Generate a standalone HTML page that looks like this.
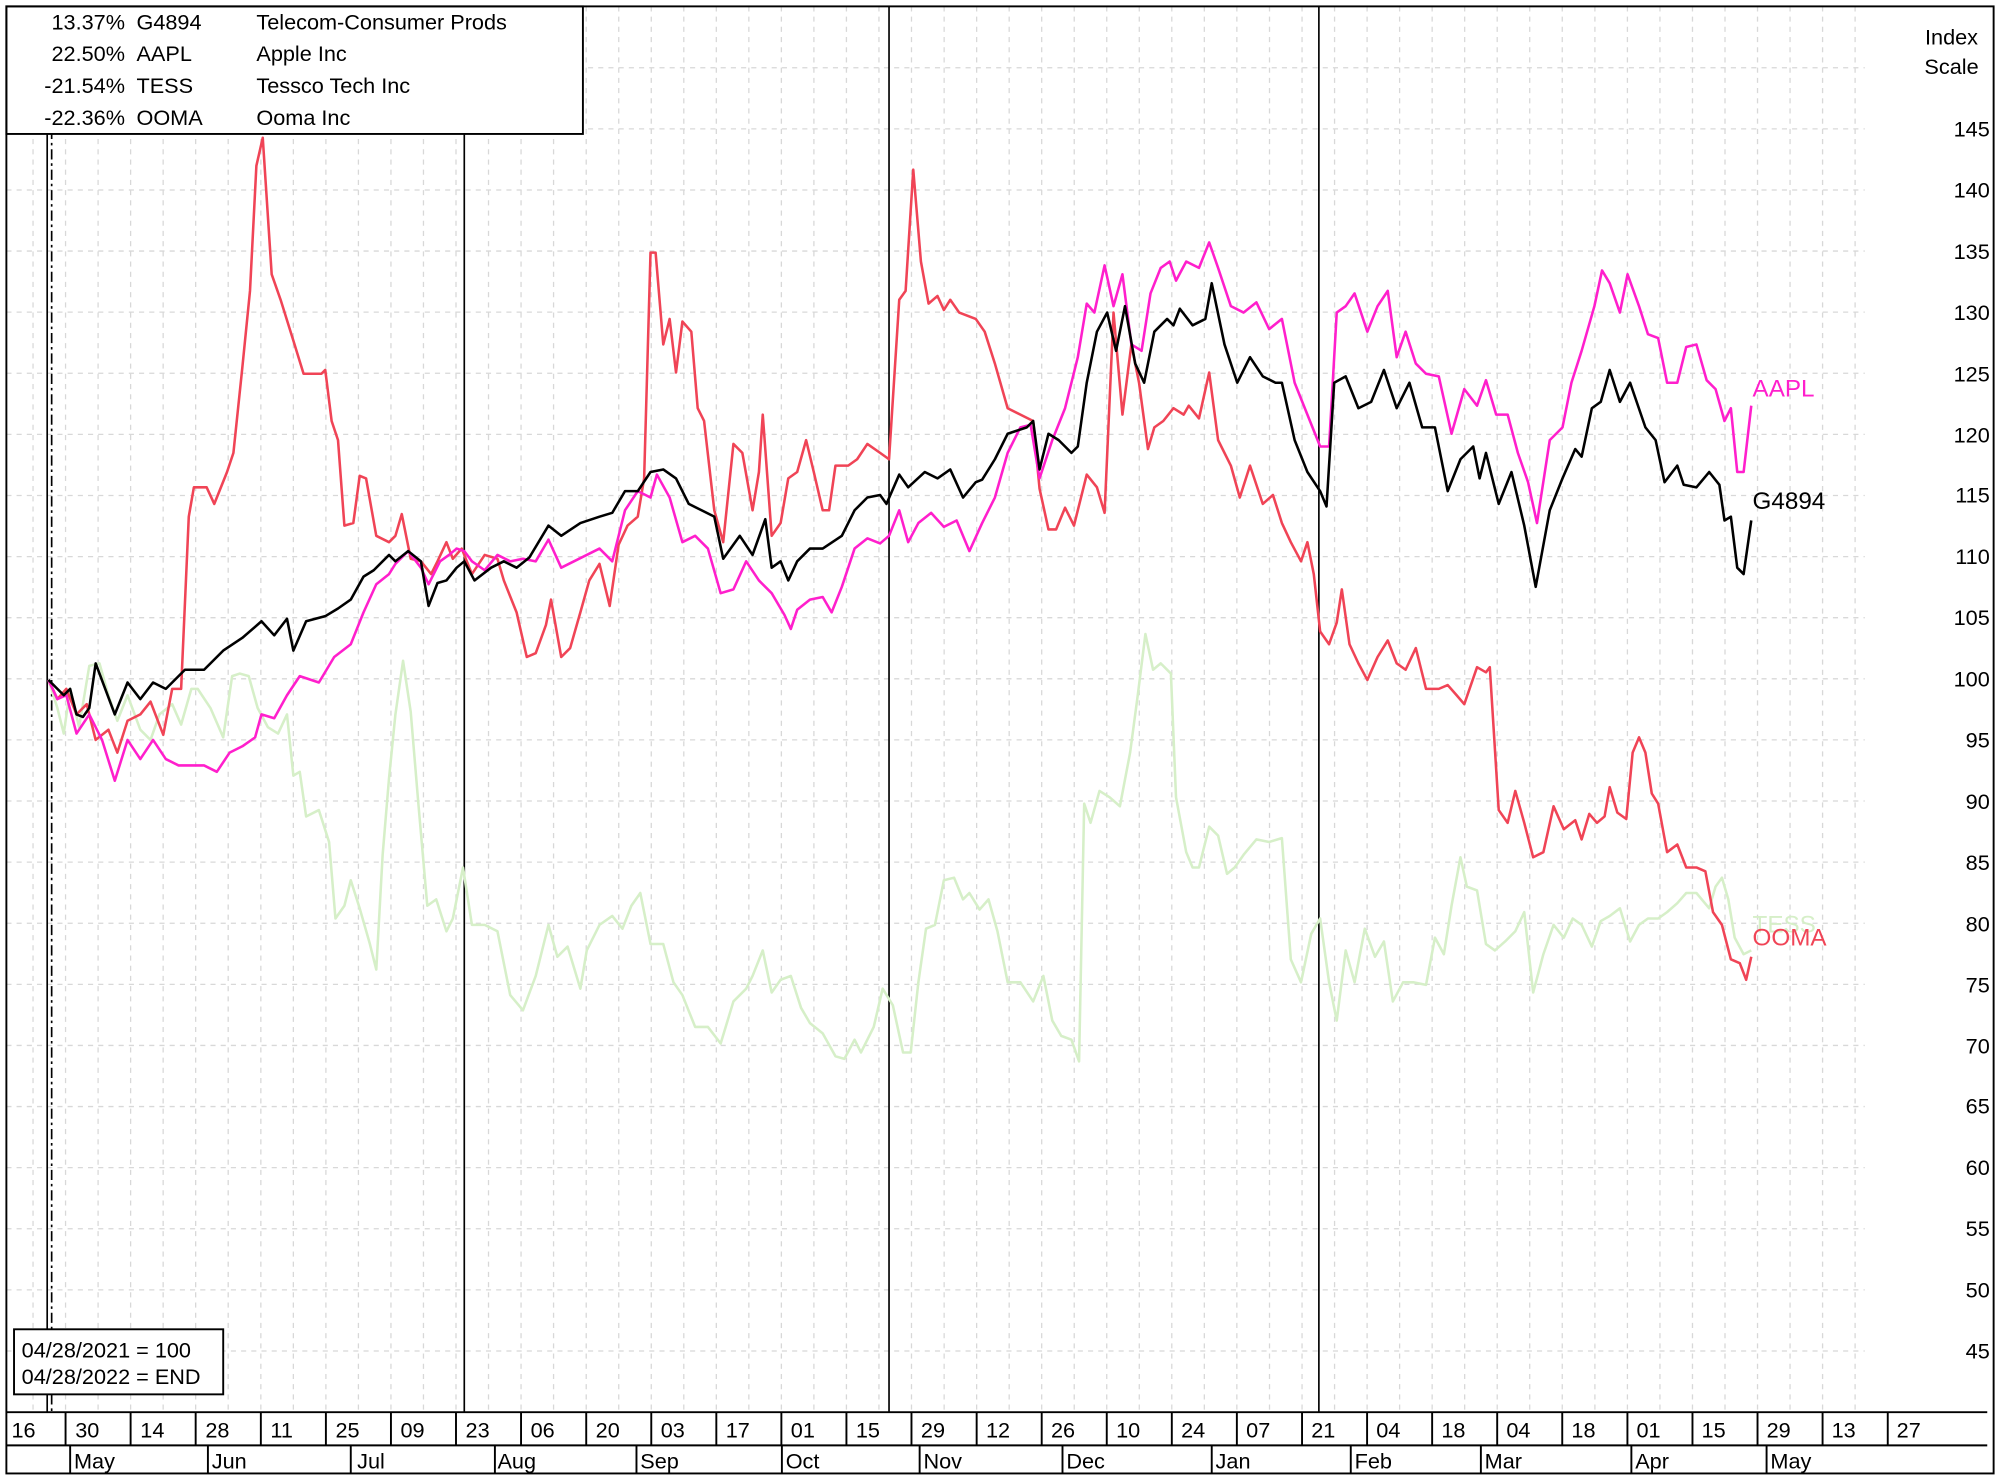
<!DOCTYPE html>
<html><head><meta charset="utf-8"><style>
html,body{margin:0;padding:0;background:#fff;}
svg{display:block;}
text{font-family:"Liberation Sans",Arial,sans-serif;font-size:17px;fill:#000;}
</style></head><body>
<svg width="2000" height="1476" viewBox="0 0 1568 1157" preserveAspectRatio="none" xmlns="http://www.w3.org/2000/svg">
<rect x="0" y="0" width="1568" height="1157" fill="#fff"/>
<g stroke="#d8d8d8" stroke-width="1" stroke-dasharray="4,4" fill="none">
<path d="M5 53.1H1462M5 101H1462M5 148.9H1462M5 196.8H1462M5 244.7H1462M5 292.6H1462M5 340.5H1462M5 388.4H1462M5 436.3H1462M5 484.2H1462M5 532.1H1462M5 580H1462M5 627.9H1462M5 675.8H1462M5 723.7H1462M5 771.6H1462M5 819.5H1462M5 867.4H1462M5 915.3H1462M5 963.2H1462M5 1011.1H1462M5 1059H1462"/>
<path d="M25.9 5V1107M51.4 5V1107M76.9 5V1107M102.4 5V1107M127.9 5V1107M153.4 5V1107M178.9 5V1107M204.5 5V1107M230 5V1107M255.5 5V1107M281 5V1107M306.5 5V1107M332 5V1107M357.5 5V1107M383 5V1107M408.5 5V1107M434 5V1107M459.6 5V1107M485.1 5V1107M510.6 5V1107M536.1 5V1107M561.6 5V1107M587.1 5V1107M612.6 5V1107M638.1 5V1107M663.6 5V1107M689.1 5V1107M714.6 5V1107M740.2 5V1107M765.7 5V1107M791.2 5V1107M816.7 5V1107M842.2 5V1107M867.7 5V1107M893.2 5V1107M918.7 5V1107M944.2 5V1107M969.7 5V1107M995.3 5V1107M1020.8 5V1107M1046.3 5V1107M1071.8 5V1107M1097.3 5V1107M1122.8 5V1107M1148.3 5V1107M1173.8 5V1107M1199.3 5V1107M1224.8 5V1107M1250.4 5V1107M1275.9 5V1107M1301.4 5V1107M1326.9 5V1107M1352.4 5V1107M1377.9 5V1107M1403.4 5V1107M1428.9 5V1107M1454.4 5V1107"/>
</g>
<g stroke="#000" stroke-width="1.3" fill="none">
<path d="M37 5V1107M364 5V1107M697 5V1107M1034 5V1107"/>
<path d="M40.5 5V1107" stroke-dasharray="8,3,2,3"/>
</g>
<g fill="none" stroke-width="2" stroke-linejoin="round">
<polyline stroke="#d6efc8" points="38,533 45,555 50,575 55,540 62,570 70,522 78,520 85,545 92,565 100,545 110,572 118,580 125,560 135,552 142,568 150,540 155,540 165,555 175,578 182,530 188,528 195,530 202,555 210,570 218,575 225,560 230,608 235,605 240,640 250,635 258,660 263,720 270,710 275,690 282,712 290,740 295,760 300,670 305,610 310,560 316,518 322,558 328,630 335,710 342,705 350,730 355,720 363,680 370,725 380,725 390,730 400,780 410,792 420,765 430,725 437,750 445,742 455,775 460,745 470,725 480,718 488,728 495,710 502,700 510,740 520,740 528,770 535,780 545,805 555,805 565,818 575,785 585,775 590,765 598,745 605,778 612,768 620,765 628,790 635,802 645,810 655,828 662,830 670,815 675,825 685,805 692,775 700,788 708,825 714,825 720,770 726,728 733,725 740,690 748,688 755,705 760,700 768,713 775,705 782,730 790,770 800,770 810,785 818,765 825,800 832,812 840,815 846,832 850,630 855,645 862,620 870,625 878,632 886,590 892,545 898,497 904,525 910,520 918,528 922,625 930,668 935,680 940,680 948,648 955,655 962,685 968,680 975,670 985,658 995,660 1005,657 1012,752 1020,770 1028,732 1035,720 1042,770 1048,800 1055,745 1062,770 1070,728 1078,750 1085,738 1092,785 1100,770 1108,770 1118,772 1125,735 1132,748 1138,710 1145,672 1150,695 1158,698 1165,740 1172,745 1180,738 1188,730 1195,715 1202,778 1210,748 1218,725 1226,735 1233,720 1240,725 1248,742 1255,722 1262,718 1270,712 1278,738 1285,725 1292,720 1300,720 1307,715 1315,708 1322,700 1330,700 1340,712 1345,695 1350,688 1355,705 1360,735 1367,748 1373,745"/>
<polyline stroke="#f04456" points="38,533 45,548 52,540 60,560 68,552 75,580 85,572 92,590 100,565 110,560 118,550 128,576 135,540 142,540 148,405 152,382 162,382 168,395 178,370 183,355 190,288 196,228 201,130 206,108 213,215 220,235 230,267 238,293 252,293 255,290 260,330 265,345 270,412 277,410 282,373 287,375 295,420 305,425 310,420 315,403 322,438 330,440 338,450 343,440 350,425 355,438 362,430 370,450 380,435 390,438 395,455 405,480 413,515 420,512 428,490 432,470 440,515 447,508 455,480 462,455 470,442 478,475 485,427 492,412 500,405 505,375 510,198 514,198 520,270 525,250 530,292 535,252 542,260 547,320 552,330 560,400 567,425 575,348 582,355 590,400 595,370 598,325 605,420 612,410 618,375 625,370 632,345 638,370 645,400 650,400 655,365 665,365 672,360 680,348 690,355 697,360 705,235 710,228 716,133 722,205 728,238 735,232 740,243 745,235 752,245 765,250 772,260 780,285 790,320 800,325 810,330 815,383 822,415 828,415 835,398 842,412 852,372 860,382 866,402 873,245 880,325 887,270 893,300 900,352 905,335 912,330 920,320 928,325 932,318 940,328 948,292 955,345 965,365 972,390 980,365 990,395 998,388 1005,410 1012,425 1020,440 1025,425 1030,450 1035,495 1042,505 1048,488 1052,462 1058,505 1065,520 1072,533 1080,515 1088,502 1095,520 1102,525 1110,508 1118,540 1128,540 1135,537 1142,545 1148,552 1158,523 1165,527 1168,523 1175,635 1182,645 1188,620 1195,645 1202,672 1210,668 1218,632 1226,650 1235,643 1240,658 1246,638 1252,645 1258,640 1262,617 1268,637 1275,642 1280,590 1285,578 1290,590 1295,622 1300,630 1307,668 1315,662 1322,680 1330,680 1337,683 1343,715 1350,725 1357,752 1364,755 1369,768 1373,750"/>
<polyline stroke="#ff1fcc" points="38,533 45,548 52,545 60,575 70,560 80,580 90,612 100,580 110,595 120,580 130,595 140,600 150,600 160,600 170,605 180,590 190,585 200,578 205,560 215,563 225,545 235,530 250,535 262,515 275,505 285,480 295,458 305,450 310,442 320,432 330,445 336,458 345,440 352,435 358,430 364,432 370,440 380,447 390,435 400,440 410,438 420,440 430,423 440,445 450,440 460,435 470,430 480,440 490,400 500,385 510,390 515,372 525,390 535,425 545,420 555,430 565,465 575,462 585,440 595,455 605,465 615,482 620,493 625,478 635,470 645,468 652,480 660,460 670,430 680,422 690,426 697,420 705,400 712,425 720,410 730,402 740,413 750,408 760,432 770,410 780,390 790,355 800,335 808,333 815,375 825,345 835,320 845,280 852,238 858,245 866,208 873,240 880,215 887,270 895,275 902,230 910,210 917,205 922,220 930,205 940,210 948,190 955,210 965,240 975,245 985,237 995,258 1005,250 1015,300 1025,325 1035,350 1042,350 1048,245 1055,240 1062,230 1072,260 1080,240 1088,228 1095,280 1102,260 1110,285 1118,293 1128,295 1138,340 1148,305 1158,318 1165,298 1173,325 1182,325 1190,355 1198,378 1205,410 1215,345 1225,335 1232,300 1240,275 1250,240 1256,212 1262,222 1270,245 1276,215 1285,240 1292,262 1300,265 1307,300 1315,300 1322,272 1330,270 1338,298 1345,305 1352,330 1357,320 1362,370 1367,370 1373,318"/>
<polyline stroke="#000" points="38,533 45,540 50,545 55,540 60,560 65,562 70,555 75,520 90,560 100,535 110,548 120,535 130,540 145,525 160,525 175,510 190,500 205,487 215,498 225,485 230,510 240,487 255,483 265,477 275,470 285,452 293,447 305,435 310,440 320,432 330,440 336,475 343,457 350,455 358,445 364,440 372,455 385,445 395,440 405,445 415,437 430,412 440,420 455,410 470,405 480,402 490,385 500,385 510,370 520,368 530,375 540,395 550,400 560,405 567,438 580,420 590,435 600,407 605,445 612,440 618,455 625,440 635,430 645,430 660,420 670,400 680,390 690,388 695,395 705,372 712,382 725,370 735,375 745,368 755,390 765,378 770,376 780,360 790,340 805,335 810,330 815,368 822,340 830,345 840,355 845,350 852,300 860,260 868,245 875,275 882,240 890,285 897,300 905,260 915,250 920,255 925,242 935,255 945,250 950,222 960,270 970,300 980,280 990,295 1000,300 1005,300 1015,345 1025,370 1035,385 1040,397 1046,300 1055,295 1065,320 1075,315 1085,290 1095,320 1105,300 1115,335 1125,335 1135,385 1145,360 1155,350 1160,375 1165,355 1175,395 1185,370 1195,412 1204,460 1215,400 1225,375 1235,352 1240,358 1248,320 1255,315 1262,290 1270,315 1278,300 1290,335 1298,345 1305,378 1315,365 1320,380 1330,382 1340,370 1348,380 1352,408 1357,405 1362,445 1367,450 1373,408"/>
</g>
<text x="1374" y="311" style="font-size:19px;fill:#ff1fcc">AAPL</text>
<text x="1374" y="399" style="font-size:19px">G4894</text>
<text x="1374" y="731" style="font-size:19px;fill:#d6efc8">TESS</text>
<text x="1374" y="741" style="font-size:19px;fill:#f04456">OOMA</text>
<!-- legend -->
<rect x="5" y="5" width="452" height="100" fill="#fff" stroke="#000" stroke-width="1.5"/>
<g text-anchor="end"><text x="98" y="23">13.37%</text><text x="98" y="48">22.50%</text><text x="98" y="73">-21.54%</text><text x="98" y="98">-22.36%</text></g>
<text x="107" y="23">G4894</text><text x="107" y="48">AAPL</text><text x="107" y="73">TESS</text><text x="107" y="98">OOMA</text>
<text x="201" y="23">Telecom-Consumer Prods</text><text x="201" y="48">Apple Inc</text><text x="201" y="73">Tessco Tech Inc</text><text x="201" y="98">Ooma Inc</text>
<rect x="11" y="1042" width="164" height="51" fill="#fff" stroke="#000" stroke-width="1.5"/>
<text x="17" y="1064">04/28/2021 = 100</text><text x="17" y="1085">04/28/2022 = END</text>
<!-- right axis -->
<text x="1530" y="35" text-anchor="middle">Index</text><text x="1530" y="58" text-anchor="middle">Scale</text>
<g text-anchor="end">
<text x="1560" y="107">145</text><text x="1560" y="155">140</text><text x="1560" y="203">135</text><text x="1560" y="251">130</text><text x="1560" y="299">125</text><text x="1560" y="347">120</text><text x="1560" y="394">115</text><text x="1560" y="442">110</text><text x="1560" y="490">105</text><text x="1560" y="538">100</text><text x="1560" y="586">95</text><text x="1560" y="634">90</text><text x="1560" y="682">85</text><text x="1560" y="730">80</text><text x="1560" y="778">75</text><text x="1560" y="826">70</text><text x="1560" y="873">65</text><text x="1560" y="921">60</text><text x="1560" y="969">55</text><text x="1560" y="1017">50</text><text x="1560" y="1065">45</text>
</g>
<!-- x axis -->
<g stroke="#000" stroke-width="1.5" fill="none">
<path d="M5 1107H1558M5 1133H1558"/>
<path d="M51.4 1107V1133M102.4 1107V1133M153.4 1107V1133M204.5 1107V1133M255.5 1107V1133M306.5 1107V1133M357.5 1107V1133M408.5 1107V1133M459.6 1107V1133M510.6 1107V1133M561.6 1107V1133M612.6 1107V1133M663.6 1107V1133M714.6 1107V1133M765.7 1107V1133M816.7 1107V1133M867.7 1107V1133M918.7 1107V1133M969.7 1107V1133M1020.8 1107V1133M1071.8 1107V1133M1122.8 1107V1133M1173.8 1107V1133M1224.8 1107V1133M1275.9 1107V1133M1326.9 1107V1133M1377.9 1107V1133M1428.9 1107V1133M1480 1107V1133"/>
<path d="M55 1133V1155M163 1133V1155M275 1133V1155M388 1133V1155M499 1133V1155M613 1133V1155M721 1133V1155M833 1133V1155M950 1133V1155M1059 1133V1155M1161 1133V1155M1279 1133V1155M1385 1133V1155"/>
<rect x="5" y="5" width="1558" height="1150"/>
</g>
<g>
<text x="9" y="1127">16</text><text x="59" y="1127">30</text><text x="110" y="1127">14</text><text x="161" y="1127">28</text><text x="212" y="1127">11</text><text x="263" y="1127">25</text><text x="314" y="1127">09</text><text x="365" y="1127">23</text><text x="416" y="1127">06</text><text x="467" y="1127">20</text><text x="518" y="1127">03</text><text x="569" y="1127">17</text><text x="620" y="1127">01</text><text x="671" y="1127">15</text><text x="722" y="1127">29</text><text x="773" y="1127">12</text><text x="824" y="1127">26</text><text x="875" y="1127">10</text><text x="926" y="1127">24</text><text x="977" y="1127">07</text><text x="1028" y="1127">21</text><text x="1079" y="1127">04</text><text x="1130" y="1127">18</text><text x="1181" y="1127">04</text><text x="1232" y="1127">18</text><text x="1283" y="1127">01</text><text x="1334" y="1127">15</text><text x="1385" y="1127">29</text><text x="1436" y="1127">13</text><text x="1487" y="1127">27</text>
</g>
<g>
<text x="58" y="1151">May</text><text x="166" y="1151">Jun</text><text x="280" y="1151">Jul</text><text x="390" y="1151">Aug</text><text x="502" y="1151">Sep</text><text x="616" y="1151">Oct</text><text x="724" y="1151">Nov</text><text x="836" y="1151">Dec</text><text x="953" y="1151">Jan</text><text x="1062" y="1151">Feb</text><text x="1164" y="1151">Mar</text><text x="1282" y="1151">Apr</text><text x="1388" y="1151">May</text>
</g>
</svg>
</body></html>
